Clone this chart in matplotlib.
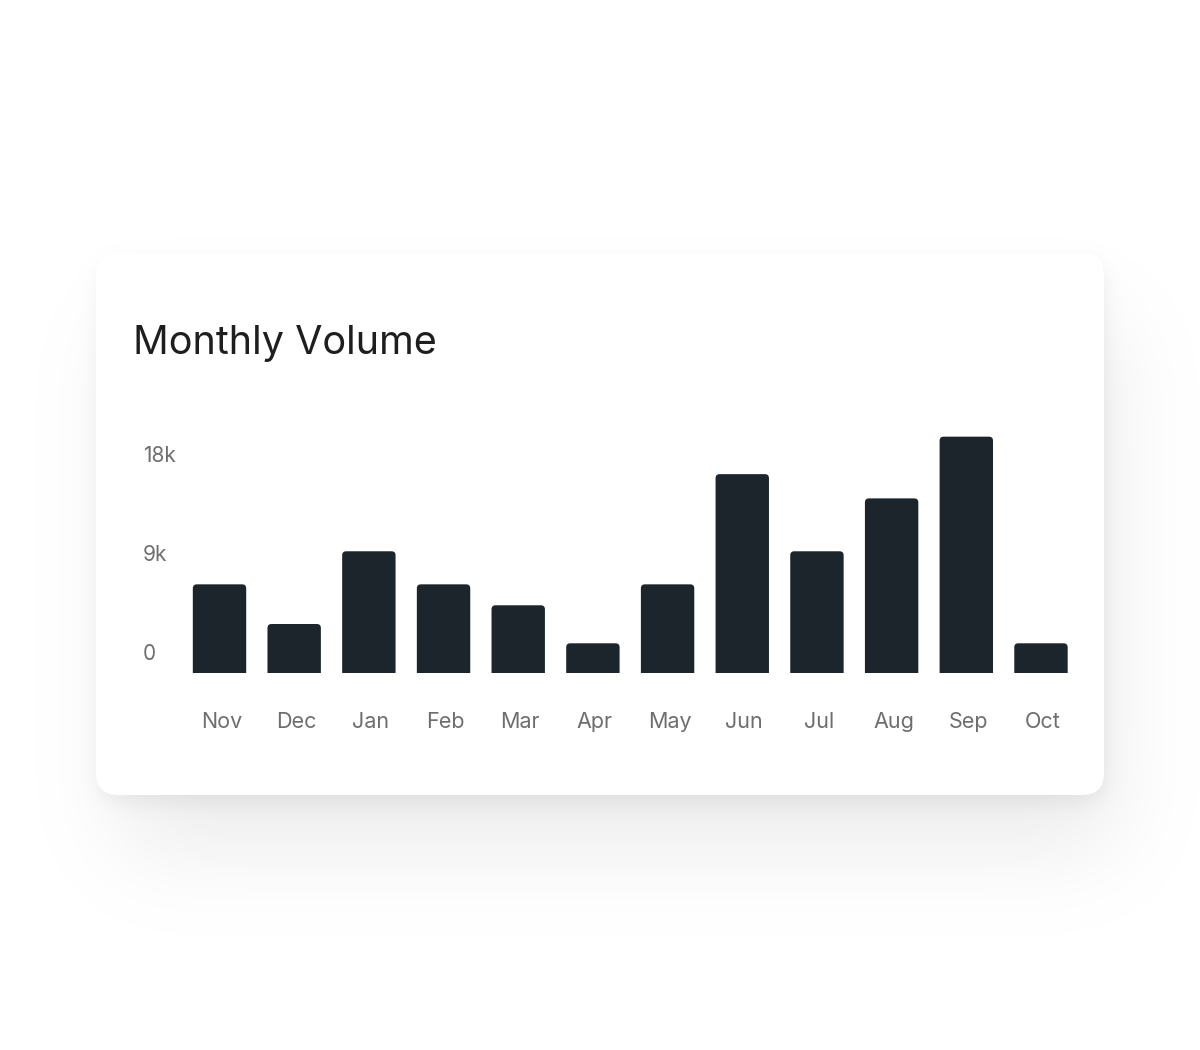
import numpy as np
import matplotlib
matplotlib.use('Agg')
import matplotlib.pyplot as plt
from matplotlib.patches import FancyBboxPatch

plt.rcParams['font.family'] = ['Inter', 'DejaVu Sans']

# data
months = ['Nov', 'Dec', 'Jan', 'Feb', 'Mar', 'Apr', 'May', 'Jun', 'Jul', 'Aug', 'Sep', 'Oct']
volume = [8000, 4400, 11000, 8000, 6100, 2650, 8000, 18000, 11000, 15800, 21400, 2650]
y_ticks = [0, 9000, 18000]
y_tick_labels = ['0', '9k', '18k']
title = 'Monthly Volume'

W, H = 1200, 1050
bar_color = '#1b252b'
label_color = '#6e6e6e'

# card box in pixels (from top-left)
cx0, cy0, cx1, cy1 = 96, 253, 1104, 795
card_r = 22


def rounded_mask(x0, y0, x1, y1, r):
    yy, xx = np.mgrid[0:H, 0:W] + 0.5
    dx = np.maximum(np.maximum(x0 + r - xx, xx - (x1 - r)), 0)
    dy = np.maximum(np.maximum(y0 + r - yy, yy - (y1 - r)), 0)
    inside = (xx >= x0) & (xx <= x1) & (yy >= y0) & (yy <= y1)
    return (inside & (dx ** 2 + dy ** 2 <= r ** 2)).astype(float)


def blur(img, sigma):
    k = np.arange(-int(3 * sigma), int(3 * sigma) + 1)
    g = np.exp(-k ** 2 / (2 * sigma ** 2))
    g /= g.sum()
    out = np.apply_along_axis(lambda m: np.convolve(m, g, mode='same'), 1, img)
    out = np.apply_along_axis(lambda m: np.convolve(m, g, mode='same'), 0, out)
    return out


# soft shadow: broad + tight layers
broad = blur(rounded_mask(cx0 + 25, cy0 + 70, cx1 + 10, cy1 + 55, card_r), 45) * 0.075
tight = blur(rounded_mask(cx0 + 2, cy0 + 8, cx1 + 2, cy1 + 8, card_r), 9) * 0.06
dark = np.clip(broad + tight, 0, 1)
shade = np.round((1 - dark) * 255).astype(np.uint8)
img = np.dstack([shade, shade, shade])

fig = plt.figure(figsize=(W / 100, H / 100), dpi=100)
bg = fig.add_axes([0, 0, 1, 1])
bg.imshow(img, extent=(0, W, H, 0), interpolation='nearest')
bg.set_xlim(0, W)
bg.set_ylim(H, 0)
bg.axis('off')

card = FancyBboxPatch((cx0 + card_r, cy0 + card_r), cx1 - cx0 - 2 * card_r, cy1 - cy0 - 2 * card_r,
                      boxstyle='round,pad=%d' % card_r, facecolor='white', edgecolor='none')
bg.add_patch(card)

bg.text(133, 354, title, fontsize=28.5, color='#1e1e1e', va='baseline', ha='left')

# chart axes
ax_left, ax_right = 180, 1080
base_y = 672.5
px_per_unit = 11.02 / 1000
ymax = 23000
ax_h = ymax * px_per_unit
ax = fig.add_axes([ax_left / W, (H - base_y) / H, (ax_right - ax_left) / W, ax_h / H])
x_step = 74.68
x0_px = 219.5
ax.set_xlim((ax_left - x0_px) / x_step, (ax_right - x0_px) / x_step)
ax.set_ylim(0, ymax)
ax.axis('off')

index = np.arange(len(months))
bars = ax.bar(index, volume, 0.715, color=bar_color)

# rounded top corners, bottom corners hidden below the axis
r_px = 4
rx = r_px / x_step
ry = r_px / px_per_unit
for rect in bars:
    rect.set_visible(False)
    x = rect.get_x()
    w = rect.get_width()
    h = rect.get_height()
    p = FancyBboxPatch((x, -ry), w, h + ry,
                       boxstyle='round,pad=0,rounding_size=%f' % rx,
                       mutation_aspect=ry / rx, facecolor=bar_color, edgecolor='none')
    ax.add_patch(p)

# y tick labels sit above their value line
for val, lab in zip(y_ticks, y_tick_labels):
    ax.annotate(lab, xy=(143, val), xycoords=('figure pixels', 'data'),
                xytext=(0, 18.5), textcoords='offset pixels',
                ha='left', va='center', fontsize=15, color=label_color, annotation_clip=False)

for i, m in enumerate(months):
    ax.annotate(m, xy=(i, 0), xycoords='data', xytext=(2, -49), textcoords='offset pixels',
                ha='center', va='center', fontsize=15.5, color=label_color, annotation_clip=False)

plt.savefig('out.png', dpi=100)
